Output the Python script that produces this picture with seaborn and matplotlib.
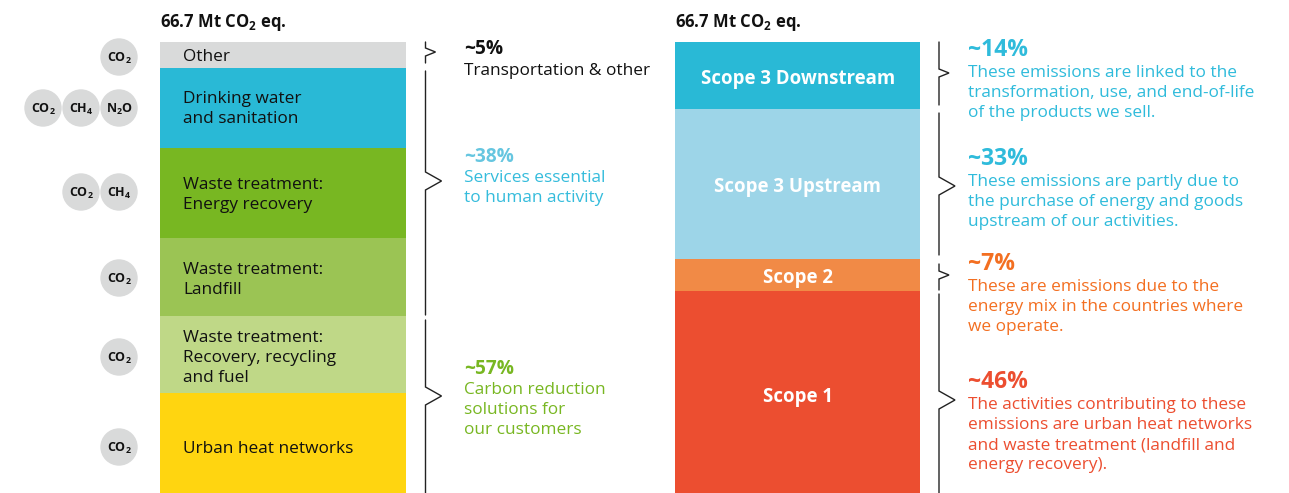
import matplotlib
matplotlib.use("Agg")
import matplotlib.pyplot as plt
import seaborn as sns
from matplotlib.patches import Circle

W, H = 1289, 493
TOP = 42

# stacked values in Mt CO2 eq., listed from the bottom of the bar upward
left_labels = ["Urban heat networks", "Recovery", "Landfill", "Energy recovery", "Drinking water", "Other"]
left_values = [14.8, 11.4, 11.5, 13.3, 11.8, 3.9]
left_colors = ["#ffd510", "#bfd887", "#9bc454", "#78b722", "#29b9d6", "#d9dada"]

right_labels = ["Scope 1", "Scope 2", "Scope 3 Upstream", "Scope 3 Downstream"]
right_values = [29.9, 4.7, 22.2, 9.9]
right_colors = ["#ec4e30", "#f18a46", "#9dd5e8", "#29b9d6"]

total_label = "66.7 Mt CO$_2$ eq."

# gases per row of bubbles and the row's pixel height
gas_rows = [
    (57, ["CO$_2$"]),
    (108, ["CO$_2$", "CH$_4$", "N$_2$O"]),
    (192, ["CO$_2$", "CH$_4$"]),
    (278, ["CO$_2$"]),
    (357, ["CO$_2$"]),
    (447, ["CO$_2$"]),
]

sns.set_theme(style="white")
plt.rcParams["font.family"] = ["Open Sans", "DejaVu Sans"]
plt.rcParams["mathtext.default"] = "regular"


def stacked_bar(fig, x0, x1, values, colors):
    ax = fig.add_axes([x0 / W, 0, (x1 - x0) / W, (H - TOP) / H])
    bottom = 0
    for v, c in zip(values, colors):
        sns.barplot(x=[0], y=[v], bottom=bottom, color=c, width=1, saturation=1,
                    linewidth=0, edgecolor="none", ax=ax)
        bottom += v
    ax.set_xlim(-0.5, 0.5)
    ax.set_ylim(0, bottom)
    ax.axis("off")
    return ax


def brace(ax, x, y0, y1, tip_y, depth, half):
    xs = [x, x, x + depth, x, x]
    ys = [y0, tip_y - half, tip_y, tip_y + half, y1]
    ax.plot(xs, ys, color="#222222", lw=1.0, solid_joinstyle="miter")


def lines(ax, x, rows, size=12.4, color="#111111", weight="normal", ha="left"):
    for y, s in rows:
        ax.text(x, y, s, fontsize=size, color=color, fontweight=weight, ha=ha, va="baseline")


fig = plt.figure(figsize=(W / 100, H / 100), dpi=100)
stacked_bar(fig, 160, 406, left_values, left_colors)
stacked_bar(fig, 675, 920, right_values, right_colors)

# overlay in pixel coordinates for the annotations
ov = fig.add_axes([0, 0, 1, 1])
ov.set_xlim(0, W)
ov.set_ylim(H, 0)
ov.axis("off")
ov.patch.set_alpha(0)

lines(ov, 160, [(27, total_label)], size=12, weight="bold")
lines(ov, 675, [(27, total_label)], size=12, weight="bold")

for y, gases in gas_rows:
    for i, g in enumerate(reversed(gases)):
        cx = 119 - 38 * i
        ov.add_patch(Circle((cx, y), 18.7, color="#d9dada", lw=0))
        ov.text(cx, y + 5, g, fontsize=9, fontweight="bold", ha="center", va="baseline", color="#111111")

lines(ov, 183, [(61, "Other"),
                (103, "Drinking water"), (123, "and sanitation"),
                (189, "Waste treatment:"), (209, "Energy recovery"),
                (274, "Waste treatment:"), (294, "Landfill"),
                (342, "Waste treatment:"), (362, "Recovery, recycling"), (382, "and fuel"),
                (453, "Urban heat networks")])

lines(ov, 464, [(54, "~5%")], size=13.7, weight="bold")
lines(ov, 464, [(75, "Transportation & other")])
lines(ov, 464, [(162, "~38%")], size=13.7, weight="bold", color="#66c6e0")
lines(ov, 464, [(182, "Services essential"), (202, "to human activity")], color="#35bcdc")
lines(ov, 464, [(374, "~57%")], size=13.7, weight="bold", color="#78b722")
lines(ov, 464, [(394, "Carbon reduction"), (414, "solutions for"), (434, "our customers")], color="#78b722")

for y, s in [(84, "Scope 3 Downstream"), (192, "Scope 3 Upstream"), (283, "Scope 2"), (402, "Scope 1")]:
    ov.text(798, y, s, fontsize=13.4, fontweight="bold", color="white", ha="center", va="baseline")

blue, orange, red = "#2fbbdb", "#f36f21", "#ec4e30"
lines(ov, 968, [(56, "~14%")], size=16.5, weight="bold", color=blue)
lines(ov, 968, [(77, "These emissions are linked to the"), (97, "transformation, use, and end-of-life"),
                (117, "of the products we sell.")], color=blue)
lines(ov, 968, [(165, "~33%")], size=16.5, weight="bold", color=blue)
lines(ov, 968, [(186, "These emissions are partly due to"), (206, "the purchase of energy and goods"),
                (226, "upstream of our activities.")], color=blue)
lines(ov, 968, [(270, "~7%")], size=16.5, weight="bold", color=orange)
lines(ov, 968, [(291, "These are emissions due to the"), (311, "energy mix in the countries where"),
                (331, "we operate.")], color=orange)
lines(ov, 968, [(388, "~46%")], size=16.5, weight="bold", color=red)
lines(ov, 968, [(409, "The activities contributing to these"), (429, "emissions are urban heat networks"),
                (449, "and waste treatment (landfill and"), (469, "energy recovery).")], color=red)

brace(ov, 425.5, 42, 63, 52, 10, 4)
brace(ov, 425.5, 71, 315, 181, 16, 9)
brace(ov, 425.5, 320, 493, 396, 16, 9)
brace(ov, 939, 42, 105, 73, 10, 4)
brace(ov, 939, 113, 255, 186, 16, 9)
brace(ov, 939, 264, 290, 275, 10, 4)
brace(ov, 939, 294, 493, 400, 16, 9)

fig.savefig("out.png", dpi=100)
plt.close(fig)
